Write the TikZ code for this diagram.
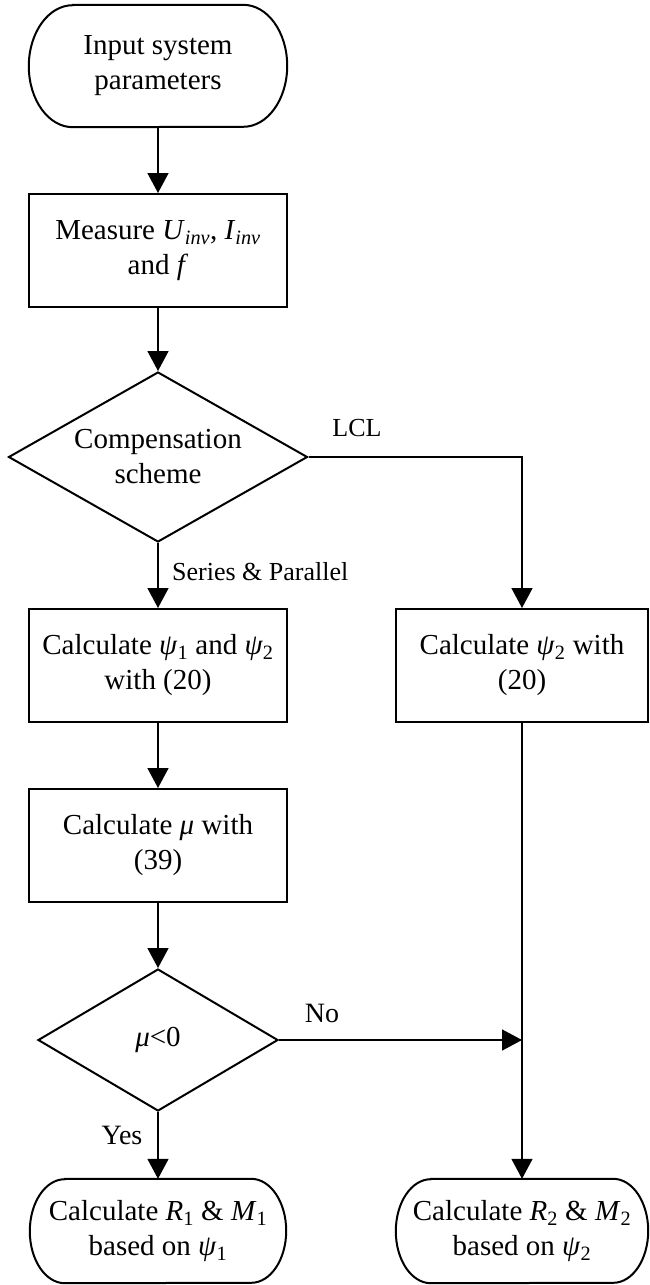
\documentclass[tikz,border=0pt]{standalone}
\usepackage{fontspec}
\setmainfont{Liberation Serif}
\usetikzlibrary{arrows.meta,shapes.geometric}
\newcommand\drawterm[3]{%
  \draw[shapeline] ([xshift=#2pt]#1.north west) -- ([xshift=-#2pt]#1.north east)
    arc[start angle=90,end angle=-90,x radius=#2,y radius=#3]
    -- ([xshift=#2pt]#1.south west)
    arc[start angle=270,end angle=90,x radius=#2,y radius=#3] -- cycle;}
\tikzset{
  shapeline/.style={line width=2pt},
  txt/.style={font=\fontsize{29}{35}\selectfont, align=center, inner sep=0pt},
  term/.style={txt, draw=none, rectangle},
  procbox/.style={txt, draw, shapeline, rectangle},
  decide/.style={txt, draw, shapeline, diamond},
  conn/.style={line width=1.6pt, -{Triangle[length=20pt,width=21pt]}},
  lbl/.style={font=\fontsize{26}{31}\selectfont, inner sep=0pt},
  lblb/.style={font=\fontsize{28}{33}\selectfont, inner sep=0pt},
}
\begin{document}
\begin{tikzpicture}[x=1pt,y=1pt]
\useasboundingbox (0,0) rectangle (649,-1285);
% nodes
\node[term, minimum width=258pt, minimum height=122pt] (t1) at (158,-66) {Input system\\parameters};
\node[procbox, minimum width=258pt, minimum height=113pt] (b1) at (158,-250.5)
  {Measure \textit{U}\textsubscript{\textit{inv}}, \textit{I}\textsubscript{\textit{inv}}\\and \textit{f}};
\node[decide, minimum width=299pt, minimum height=170pt, shape aspect=1.76] (d1) at (158,-457) {Compensation\\scheme};
\node[procbox, minimum width=258pt, minimum height=113pt] (b2) at (158,-665.5)
  {Calculate \textit{ψ}\textsubscript{1} and \textit{ψ}\textsubscript{2}\\with (20)};
\node[procbox, minimum width=252pt, minimum height=113pt] (rb) at (522,-665.5)
  {Calculate \textit{ψ}\textsubscript{2} with\\(20)};
\node[procbox, minimum width=258pt, minimum height=113pt] (b3) at (158,-845.5)
  {Calculate \textit{μ} with\\(39)};
\node[decide, minimum width=240pt, minimum height=142pt, shape aspect=1.69] (d2) at (158,-1040) {\textit{μ}<0};
\node[term, minimum width=256pt, minimum height=104pt] (t2) at (158,-1231)
  {Calculate \textit{R}\textsubscript{1} \& \textit{M}\textsubscript{1}\\based on \textit{ψ}\textsubscript{1}};
\node[term, minimum width=252pt, minimum height=104pt] (t3) at (522,-1231)
  {Calculate \textit{R}\textsubscript{2} \& \textit{M}\textsubscript{2}\\based on \textit{ψ}\textsubscript{2}};
% terminator outlines
\drawterm{t1}{44}{61}
\drawterm{t2}{35}{52}
\drawterm{t3}{35}{52}
% connectors
\draw[conn] (t1.south) -- (b1.north);
\draw[conn] (b1.south) -- (d1.north);
\draw[conn] (d1.south) -- (b2.north);
\draw[conn] (d1.east) -| (rb.north);
\draw[conn] (b2.south) -- (b3.north);
\draw[conn] (b3.south) -- (d2.north);
\draw[conn] (d2.south) -- (t2.north);
\draw[conn] (d2.east) -- (rb.south |- d2.east);
\draw[conn] (rb.south) -- (t3.north);
% labels
\node[lbl] (lcl) at (357,-428) {LCL};
\node[lbl, anchor=west] (sp) at (172,-572) {Series \& Parallel};
\node[lblb] (no) at (322,-1013) {No};
\node[lblb] (yes) at (122,-1135) {Yes};
\end{tikzpicture}
\end{document}
